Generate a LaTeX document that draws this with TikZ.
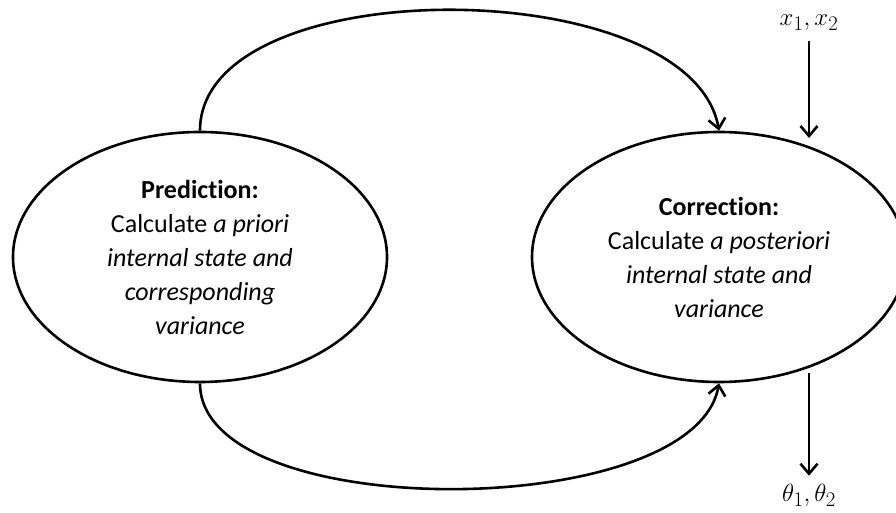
\documentclass[tikz,border=0pt]{standalone}
\usepackage{fontspec}
\setmainfont{Carlito}[Ligatures=NoCommon]
\usetikzlibrary{shapes.geometric,arrows.meta}

\tikzset{
  phase/.style={ellipse, draw, line width=2.6pt, minimum width=374pt, minimum height=250pt,
    align=center, font=\fontsize{26}{34}\selectfont},
  flow/.style={line width=2.6pt, -{Straight Barb[length=10pt,width=17pt,line width=2.6pt]}},
  io/.style={font=\fontsize{30}{32}\selectfont, inner sep=0pt}
}

\begin{document}
\begin{tikzpicture}[x=1pt, y=1pt]
\useasboundingbox (0,0) rectangle (896,513);
% the two phases
\node[phase] (pred) at (200,256) {\textbf{Prediction:}\\Calculate \textit{a priori}\\\textit{internal state and}\\\textit{corresponding}\\\textit{variance}};
\node[phase] (corr) at (719,256) {\textbf{Correction:}\\Calculate \textit{a posteriori}\\\textit{internal state and}\\\textit{variance}};
% loops between them
\draw[flow] (pred.north) to[out=90, in=100, looseness=0.8] (corr.north);
\draw[flow] (pred.south) to[out=-90, in=-100, looseness=0.7] (corr.south);
% measurements in, parameters out
\node[io] (xin) at (809,490) {$x_1,x_2$};
\coordinate (xend) at (809,375);
\draw[flow] ([yshift=-10pt]xin.south) -- (xend);
\coordinate (thstart) at (809,140);
\node[io] (thout) at (809,18) {$\theta_1,\theta_2$};
\draw[flow] (thstart) -- ([yshift=8pt]thout.north);
\end{tikzpicture}
\end{document}
